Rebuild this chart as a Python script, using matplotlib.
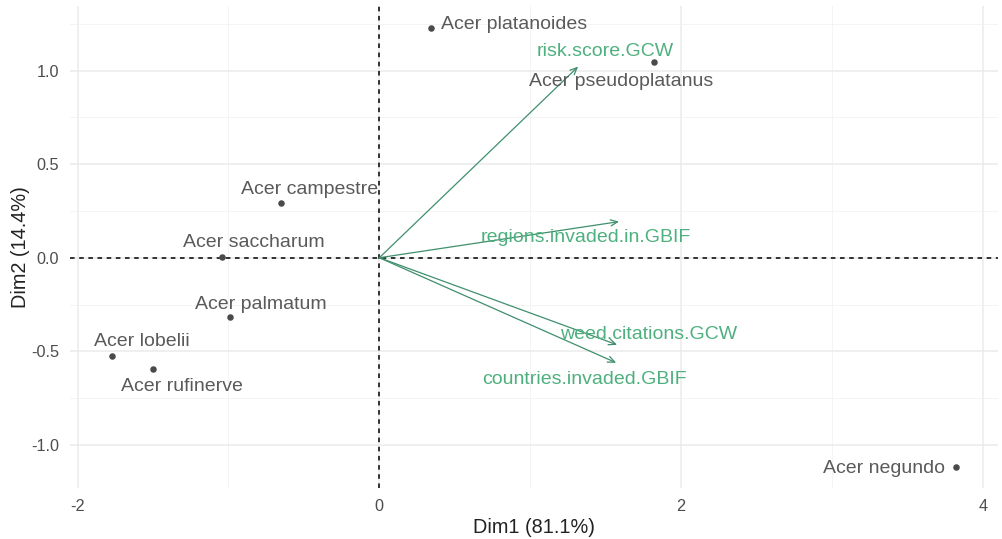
import matplotlib
matplotlib.use("Agg")
import matplotlib.pyplot as plt
from matplotlib.ticker import MultipleLocator

plt.rcParams['font.family'] = ['Liberation Sans', 'DejaVu Sans']
plt.rcParams['axes.unicode_minus'] = False

# individuals (species) coordinates on Dim1 / Dim2
species = ['Acer platanoides', 'Acer pseudoplatanus', 'Acer campestre', 'Acer saccharum',
           'Acer palmatum', 'Acer lobelii', 'Acer rufinerve', 'Acer negundo']
dim1 = [0.344, 1.821, -0.649, -1.040, -0.987, -1.775, -1.503, 3.821]
dim2 = [1.225, 1.043, 0.294, 0.005, -0.316, -0.524, -0.594, -1.118]

# variable arrows
variables = ['risk.score.GCW', 'regions.invaded.in.GBIF', 'weed.citations.GCW', 'countries.invaded.GBIF']
var_dim1 = [1.318, 1.589, 1.576, 1.570]
var_dim2 = [1.021, 0.193, -0.465, -0.561]

# label offsets in pixels (repel-style placement)
sp_offsets = [(10, 4, 'left'), (-33, -19, 'center'), (28, 13, 'center'), (31, 14, 'center'),
              (30, 12, 'center'), (30, 14, 'center'), (29, -18, 'center'), (-72, -1, 'center')]
var_offsets = [(27, 15), (-33, -16), (31, 10), (-32, -17)]

gray_txt = '#5a5a5a'
green_txt = '#4fb07f'
green_arrow = '#3f8f6c'

fig = plt.figure(figsize=(10.02, 5.39), dpi=100)
ax = fig.add_axes([0.0699, 0.0946, 0.926, 0.8944])

ax.set_xlim(-2.05, 4.10)
ax.set_ylim(-1.23, 1.345)
ax.xaxis.set_major_locator(MultipleLocator(2))
ax.xaxis.set_minor_locator(MultipleLocator(1))
ax.yaxis.set_major_locator(MultipleLocator(0.5))
ax.yaxis.set_minor_locator(MultipleLocator(0.25))
ax.set_yticks([-1.0, -0.5, 0.0, 0.5, 1.0])
ax.set_yticklabels(['-1.0', '-0.5', '0.0', '0.5', '1.0'])
ax.grid(which='major', color='#ebebeb', linewidth=1.1)
ax.grid(which='minor', color='#f2f2f2', linewidth=0.6)
ax.set_axisbelow(True)
for s in ax.spines.values():
    s.set_visible(False)
ax.tick_params(which='both', length=0, labelsize=11.7, labelcolor='#4d4d4d', pad=8)

ax.axhline(0, color='black', linestyle=(0, (3, 3)), linewidth=1.1, zorder=1)
ax.axvline(0, color='black', linestyle=(0, (3, 3)), linewidth=1.1, zorder=1)

# arrows
for name, vx, vy, (ox, oy) in zip(variables, var_dim1, var_dim2, var_offsets):
    ax.annotate('', xy=(vx, vy), xytext=(0, 0),
                arrowprops=dict(arrowstyle='->,head_length=0.5,head_width=0.22',
                                color=green_arrow, lw=0.9, shrinkA=0, shrinkB=0))
    ax.annotate(name, xy=(vx, vy), xytext=(ox, oy), textcoords='offset pixels',
                ha='center', va='center', color=green_txt, fontsize=14)

# individuals
ax.scatter(dim1, dim2, s=22, color='#4a4a4a', zorder=3, linewidths=0)
for name, x, y, (ox, oy, ha) in zip(species, dim1, dim2, sp_offsets):
    ax.annotate(name, xy=(x, y), xytext=(ox, oy), textcoords='offset pixels',
                ha=ha, va='center', color=gray_txt, fontsize=14)

ax.set_xlabel('Dim1 (81.1%)', fontsize=14.3, color='#222222', labelpad=3)
ax.set_ylabel('Dim2 (14.4%)', fontsize=14.3, color='#222222', labelpad=1)

fig.savefig('out.png', dpi=100)
